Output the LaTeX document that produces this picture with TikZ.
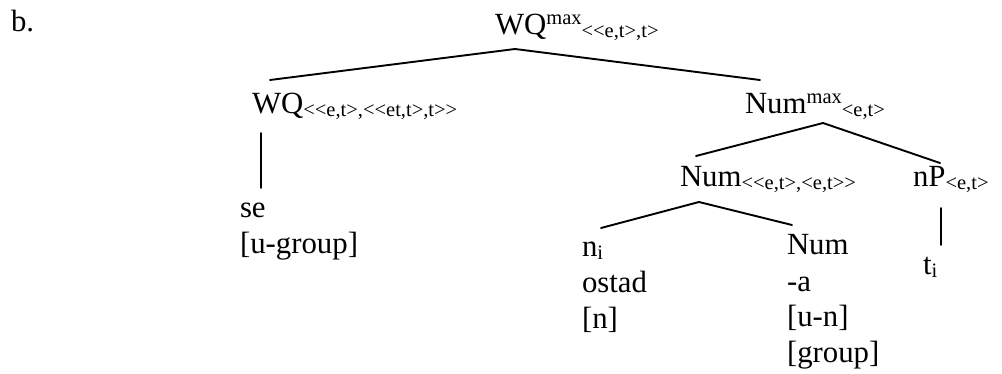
\documentclass[tikz,border=0pt]{standalone}
\usepackage{fontspec}
% plain family: no TeX ligatures, so << stays as two angle brackets
\newfontfamily\plainserif{Liberation Serif}
\newcommand\mainsz{\plainserif\fontsize{30.8}{36}\selectfont}
\newcommand\smallsz{\plainserif\fontsize{20.5}{22}\selectfont}
\newcommand\Sup[1]{\raisebox{10pt}{\smallsz #1}}
\newcommand\Sub[1]{\raisebox{-3pt}{\smallsz #1}}
% stacked lines whose baseline is that of the first line
\newcommand\Lines[1]{\vtop{\baselineskip=36pt\halign{##\hfil\cr#1\crcr}}}
\tikzset{
  lbl/.style={anchor=base west, inner sep=0pt, outer sep=0pt, font=\mainsz},
  branch/.style={line width=1.9pt, line cap=round}
}
\begin{document}
\begin{tikzpicture}[x=1pt, y=-1pt]
  \useasboundingbox (0,0) rectangle (1002,374);

  % labels
  \node[lbl] (ex)     at (11,32)   {b.};
  \node[lbl] (wqmax)  at (495,35)  {WQ\Sup{max}\Sub{<<e,t>,t>}};
  \node[lbl] (wq)     at (252,114) {WQ\Sub{<<e,t>,<<et,t>,t>>}};
  \node[lbl] (nummax) at (745,114) {Num\Sup{max}\Sub{<e,t>}};
  \node[lbl] (num)    at (680,187) {Num\Sub{<<e,t>,<e,t>>}};
  \node[lbl] (np)     at (913,187) {nP\Sub{<e,t>}};
  \node[lbl] (se)     at (240,218) {\Lines{se\cr [u-group]}};
  \node[lbl] (ni)     at (582,257) {\Lines{n\Sub{i}\cr ostad\cr [n]}};
  \node[lbl] (numa)   at (787,255) {\Lines{Num\cr -a\cr [u-n]\cr [group]}};
  \node[lbl] (ti)     at (923,275) {t\Sub{i}};

  % branch points
  \coordinate (wqmax-s)  at (515,49);
  \coordinate (wq-n)     at (270,80);
  \coordinate (nummax-n) at (760,80);
  \coordinate (wq-s)     at (261,133);
  \coordinate (se-n)     at (261,188);
  \coordinate (nummax-s) at (823,123);
  \coordinate (num-n)    at (696,156);
  \coordinate (np-n)     at (940,163);
  \coordinate (np-s)     at (941,208);
  \coordinate (ti-n)     at (941,245);
  \coordinate (num-s)    at (699,202);
  \coordinate (ni-n)     at (601,228);
  \coordinate (numa-n)   at (792,225);

  % branches
  \draw[branch] (wq-n) -- (wqmax-s) -- (nummax-n);
  \draw[branch] (wq-s) -- (se-n);
  \draw[branch] (num-n) -- (nummax-s) -- (np-n);
  \draw[branch] (np-s) -- (ti-n);
  \draw[branch] (ni-n) -- (num-s) -- (numa-n);
\end{tikzpicture}
\end{document}
